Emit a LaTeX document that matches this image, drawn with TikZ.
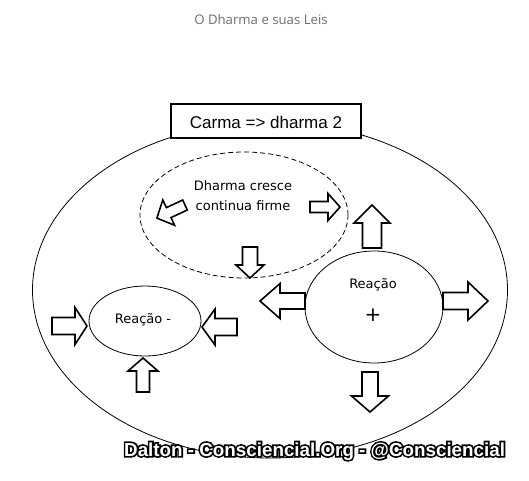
\documentclass[tikz,border=0pt]{standalone}
\usepackage{fontspec}
\setmainfont{DejaVu Sans}
\newfontfamily\boxfont{Liberation Sans}
\newfontfamily\markfont{Liberation Sans Bold}
\newfontfamily\markstroke[FakeBold=18]{Liberation Sans Bold}
\newfontfamily\titlefont{Open Sans}
\usetikzlibrary{shapes.geometric}
\definecolor{titlegray}{RGB}{110,110,110}
\tikzset{
  blk/.style={draw=black, line width=1.6pt, fill=white, line join=miter},
  oval/.style={ellipse, draw=black, line width=0.8pt, inner sep=0pt},
  lbl/.style={inner sep=0pt, anchor=base, font=\fontsize{13}{15}\selectfont},
}
\newcommand\blockarrow[7]{% tail x, tail y, angle, length, head length, shaft half width, head half width
  \draw[blk, shift={(#1,#2)}, rotate=#3] (0,-#6) -- (#4-#5,-#6) -- (#4-#5,-#7) -- (#4,0)
    -- (#4-#5,#7) -- (#4-#5,#6) -- (0,#6) -- cycle;}
\newcommand\outl[1]{\leavevmode
  \rlap{\markstroke\color{black}#1}%
  {\markfont\color{white}#1}}
\begin{document}
\begin{tikzpicture}[x=1pt,y=-1pt]
\useasboundingbox (0,0) rectangle (529,480);
\fill[white] (0,0) rectangle (529,480);
% title
\node[inner sep=0pt, anchor=base, text=titlegray, font=\titlefont\fontsize{13.2}{15}\selectfont] (title) at (261,24) {O Dharma e suas Leis};
% outer ellipse
\node[oval, minimum width=475, minimum height=336] (outer) at (270,290) {};
% header box
\node[draw=black, line width=1.2pt, fill=white, minimum width=190, minimum height=34, inner sep=0pt] (box) at (266,121) {};
\node[inner sep=0pt, anchor=base, font=\boxfont\fontsize{17}{19}\selectfont] (boxtext) at (266,128) {Carma => dharma 2};
% dashed ellipse
\node[oval, dash pattern=on 5pt off 3pt, minimum width=208, minimum height=126] (dharma) at (244,215) {};
\node[lbl] (d1) at (243,190) {Dharma cresce};
\node[lbl] (d2) at (243,210) {continua firme};
% small ellipse
\node[oval, minimum width=112, minimum height=70] (neg) at (145,321) {};
\node[lbl] (negtext) at (143,323) {Reação -};
% big right ellipse
\node[oval, minimum width=138, minimum height=112] (pos) at (374,307) {};
\node[lbl] (postext) at (373,288) {Reação};
\node[inner sep=0pt, font=\fontsize{20}{22}\selectfont] (plus) at (373,315) {+};
% arrows in dashed ellipse
\blockarrow{185}{205}{205}{31}{13}{5.5}{14}
\blockarrow{310}{207}{0}{30}{12}{5.5}{13.5}
\blockarrow{250}{247}{-90}{31}{13}{7.5}{14}
% arrows around small ellipse
\blockarrow{52}{326}{0}{35}{12}{8.5}{18.5}
\blockarrow{237}{327}{180}{35}{13}{8.5}{18}
\blockarrow{143}{392}{90}{34}{13}{6.5}{15}
% arrows around big ellipse
\blockarrow{372}{248}{90}{43}{18}{9.5}{18}
\blockarrow{305}{301}{180}{45}{20}{8}{17.5}
\blockarrow{443}{301}{0}{45}{20}{8.5}{19}
\blockarrow{370}{372}{-90}{40}{16}{8}{18.5}
% watermark
\node[inner sep=0pt, anchor=base west, font=\fontsize{18.8}{21}\selectfont] (mark) at (124,456) {\outl{Dalton - Consciencial.Org - @Consciencial}};
\end{tikzpicture}
\end{document}
